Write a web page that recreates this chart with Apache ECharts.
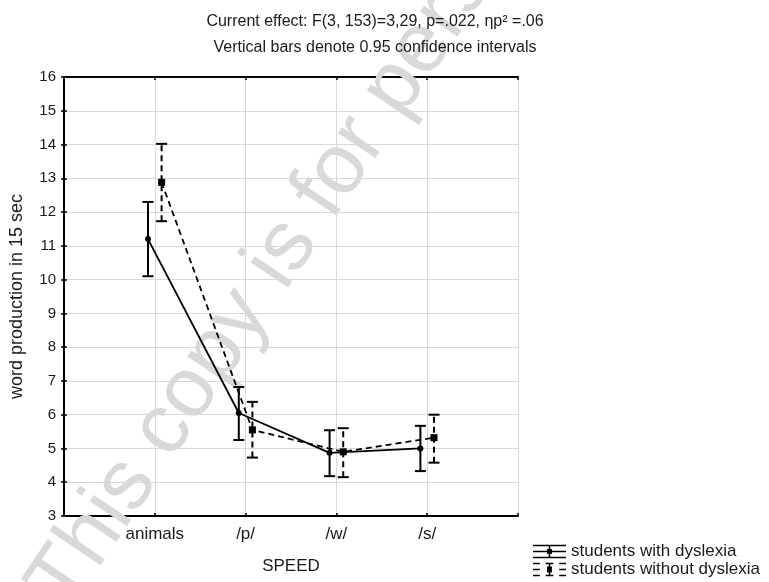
<!DOCTYPE html>
<html>
<head>
<meta charset="utf-8">
<script src="https://cdn.jsdelivr.net/npm/echarts@6/dist/echarts.min.js"></script>
<style>
html, body { margin: 0; padding: 0; background: #fff; }
#chart { width: 769px; height: 582px; }
</style>
</head>
<body>
<div id="chart"></div>
<script>
const categories = ['animals', '/p/', '/w/', '/s/'];
const dysMean = [11.2, 6.05, 4.87, 5.0];
const dysLow = [10.1, 5.25, 4.18, 4.33];
const dysHigh = [12.3, 6.82, 5.54, 5.67];
const nonMean = [12.88, 5.55, 4.9, 5.32];
const nonLow = [11.73, 4.73, 4.15, 4.58];
const nonHigh = [14.02, 6.38, 5.6, 6.0];

const font = "'Liberation Sans', Arial, sans-serif";
const ink = '#1a1a1a';
const off = 0.075;
const pts = (means, shift) => means.map((v, i) => [i + 1 + shift, v]);
const bars = (lows, highs, shift) => lows.map((lo, i) => [i + 1 + shift, lo, highs[i]]);

// error bar drawn with the axis scales
const errorBar = (dash) => (params, api) => {
    const x = api.value(0);
    const lo = api.coord([x, api.value(1)]);
    const hi = api.coord([x, api.value(2)]);
    const w = 5.5;
    const cap = { stroke: '#000', lineWidth: 2 };
    return {
        type: 'group',
        children: [
            { type: 'line', shape: { x1: lo[0], y1: lo[1], x2: hi[0], y2: hi[1] }, style: { stroke: '#000', lineWidth: 2, lineDash: dash } },
            { type: 'line', shape: { x1: hi[0] - w, y1: hi[1], x2: hi[0] + w, y2: hi[1] }, style: cap },
            { type: 'line', shape: { x1: lo[0] - w, y1: lo[1], x2: lo[0] + w, y2: lo[1] }, style: cap }
        ]
    };
};

const solidIcon = 'path://M0,0H34V1.6H0Z M0,6.2H34V7.8H0Z M0,12.4H34V14H0Z M16.2,0H17.8V14H16.2Z M14.5,4.5H19.5V9.5H14.5Z';
const dashIcon = 'path://M0,0H7V1.6H0Z M13,0H21V1.6H13Z M27,0H34V1.6H27Z M0,6.2H7V7.8H0Z M27,6.2H34V7.8H27Z M0,12.4H7V14H0Z M13,12.4H21V14H13Z M27,12.4H34V14H27Z M16.2,0H17.8V14H16.2Z M14.5,4H19.5V10H14.5Z';

const chart = echarts.init(document.getElementById('chart'));
chart.setOption({
    animation: false,
    textStyle: { fontFamily: font },
    title: {
        text: 'Current effect: F(3, 153)=3,29, p=.022, ηp² =.06',
        subtext: 'Vertical bars denote 0.95 confidence intervals',
        left: 370,
        textAlign: 'center',
        top: 9,
        itemGap: 10,
        textStyle: { fontSize: 16, fontWeight: 'normal', color: ink, fontFamily: font },
        subtextStyle: { fontSize: 16, color: ink, fontFamily: font }
    },
    graphic: [{
        type: 'text',
        x: 84,
        y: 624,
        rotation: 56 * Math.PI / 180,
        silent: true,
        z: 1,
        style: {
            text: 'This copy is for personal use',
            fontSize: 85,
            fontFamily: font,
            fill: '#d9d9d9',
            textVerticalAlign: 'bottom'
        }
    }],
    legend: {
        orient: 'vertical',
        left: 533,
        top: 543,
        padding: 0,
        height: 39,
        itemWidth: 33,
        itemHeight: 14,
        itemGap: 1,
        textStyle: { fontSize: 17, lineHeight: 16, color: ink, fontFamily: font },
        data: [
            { name: 'students with dyslexia', icon: solidIcon, itemStyle: { color: '#000' } },
            { name: 'students without dyslexia', icon: dashIcon, itemStyle: { color: '#000' } }
        ]
    },
    grid: { left: 64, top: 77, width: 454, height: 439 },
    xAxis: [{
        type: 'value',
        min: 0,
        max: 5,
        interval: 1,
        name: 'SPEED',
        nameLocation: 'middle',
        nameGap: 42,
        nameTextStyle: { fontSize: 17, color: ink },
        axisLine: { lineStyle: { color: '#000', width: 2 } },
        axisTick: { inside: true, length: 3, lineStyle: { color: '#000', width: 1.5 } },
        axisLabel: {
            fontSize: 17,
            color: ink,
            margin: 10,
            formatter: (v) => categories[v - 1] || ''
        },
        splitLine: { show: true, lineStyle: { color: '#d8d8d8', width: 1 } }
    }, {
        type: 'value',
        position: 'top',
        min: 0,
        max: 5,
        interval: 1,
        axisLine: { lineStyle: { color: '#000', width: 2 } },
        axisTick: { inside: true, length: 3, lineStyle: { color: '#000', width: 1.5 } },
        axisLabel: { show: false },
        splitLine: { show: false }
    }],
    yAxis: [{
        type: 'value',
        min: 3,
        max: 16,
        interval: 1,
        name: 'word production in 15 sec',
        nameLocation: 'middle',
        nameGap: 38,
        nameTextStyle: { fontSize: 18, color: ink },
        axisLine: { show: true, lineStyle: { color: '#000', width: 2 } },
        axisTick: { show: true, inside: true, length: 3, lineStyle: { color: '#000', width: 1.5 } },
        axisLabel: { fontSize: 15, color: ink, margin: 8 },
        splitLine: { show: true, lineStyle: { color: '#d8d8d8', width: 1 } }
    }, {
        type: 'value',
        position: 'right',
        min: 3,
        max: 16,
        interval: 1,
        axisLine: { show: true, lineStyle: { color: '#000', width: 2 } },
        axisTick: { show: true, inside: true, length: 3, lineStyle: { color: '#000', width: 1.5 } },
        axisLabel: { show: false },
        splitLine: { show: false }
    }],
    series: [{
        name: 'students with dyslexia',
        type: 'line',
        data: pts(dysMean, -off),
        symbol: 'circle',
        symbolSize: 6,
        itemStyle: { color: '#000' },
        lineStyle: { color: '#000', width: 1.8 },
        z: 5
    }, {
        name: 'students without dyslexia',
        type: 'line',
        data: pts(nonMean, off),
        symbol: 'rect',
        symbolSize: 7,
        itemStyle: { color: '#000' },
        lineStyle: { color: '#000', width: 1.8, type: [6, 4] },
        z: 5
    }, {
        name: 'students with dyslexia',
        type: 'custom',
        data: bars(dysLow, dysHigh, -off),
        renderItem: errorBar(null),
        encode: { x: 0, y: [1, 2] },
        z: 4
    }, {
        name: 'students without dyslexia',
        type: 'custom',
        data: bars(nonLow, nonHigh, off),
        renderItem: errorBar([6, 4]),
        encode: { x: 0, y: [1, 2] },
        z: 4
    }]
});
</script>
</body>
</html>
